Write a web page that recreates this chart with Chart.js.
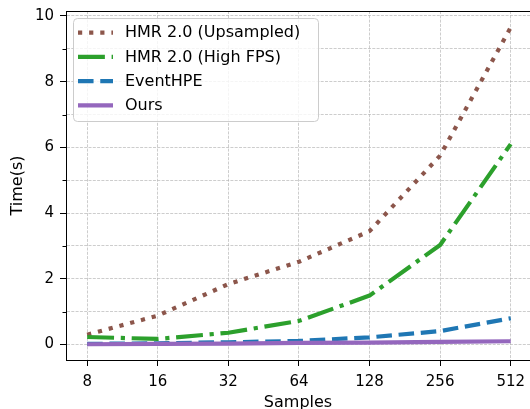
<!DOCTYPE html>
<html>
<head>
<meta charset="utf-8">
<script src="https://cdn.jsdelivr.net/npm/chart.js@4/dist/chart.umd.min.js"></script>
<style>
  html, body { margin: 0; padding: 0; background: #fff; }
  #wrap { width: 530px; height: 409px; position: relative; }
</style>
</head>
<body>
<div id="wrap"><canvas id="chartTempi"></canvas></div>
<script>
// dati
var samples = ['8', '16', '32', '64', '128', '256', '512'];
var hmrUpsampled = [0.30, 0.88, 1.84, 2.52, 3.45, 5.75, 9.65];
var hmrHighFps = [0.23, 0.17, 0.36, 0.72, 1.49, 3.03, 6.10];
var eventHpe = [0.02, 0.04, 0.07, 0.11, 0.22, 0.41, 0.80];
var ours = [0.01, 0.02, 0.03, 0.05, 0.06, 0.08, 0.10];
var yTicks = [0, 1, 2, 3, 4, 5, 6, 7, 8, 9, 10];

var FONT = 'DejaVu Sans';
var LW = 4.2;

function punti(valori) {
    return valori.map(function (v, i) { return { x: i, y: v }; });
}

// legenda dentro l'area del grafico, stile matplotlib
var legendaInterna = {
    id: 'legendaInterna',
    afterDatasetsDraw: function (chart) {
        var ctx = chart.ctx;
        var x0 = 73, y0 = 18, w = 245, h = 103;
        ctx.save();
        ctx.beginPath();
        ctx.roundRect(x0 + 0.5, y0 + 0.5, w, h, 4);
        ctx.fillStyle = 'rgba(255,255,255,0.8)';
        ctx.fill();
        ctx.strokeStyle = '#cccccc';
        ctx.lineWidth = 1;
        ctx.stroke();
        ctx.font = '16px "' + FONT + '"';
        ctx.textBaseline = 'middle';
        ctx.fillStyle = '#000';
        chart.data.datasets.forEach(function (ds, i) {
            var y = 32.7 + i * 24.2;
            ctx.beginPath();
            ctx.setLineDash(ds.borderDash || []);
            ctx.lineDashOffset = 0;
            ctx.lineCap = 'butt';
            ctx.strokeStyle = ds.borderColor;
            ctx.lineWidth = ds.borderWidth;
            ctx.moveTo(78, y);
            ctx.lineTo(113, y);
            ctx.stroke();
            ctx.setLineDash([]);
            ctx.fillText(ds.label, 125, y + 0.5);
        });
        ctx.restore();
    }
};

// bordo superiore e tacche minori sull'asse y
var cornice = {
    id: 'cornice',
    afterDraw: function (chart) {
        var ctx = chart.ctx;
        var a = chart.chartArea;
        var sy = chart.scales.y;
        ctx.save();
        ctx.strokeStyle = '#000';
        ctx.lineWidth = 1;
        ctx.beginPath();
        ctx.moveTo(a.left, Math.round(a.top) + 0.5);
        ctx.lineTo(a.right, Math.round(a.top) + 0.5);
        ctx.stroke();
        yTicks.forEach(function (v) {
            if (v % 2 === 0) return;
            var py = Math.round(sy.getPixelForValue(v)) + 0.5;
            ctx.beginPath();
            ctx.moveTo(a.left - 3.5, py);
            ctx.lineTo(a.left, py);
            ctx.stroke();
        });
        ctx.restore();
    }
};

var ctxTempi = document.getElementById('chartTempi').getContext('2d');
new Chart(ctxTempi, {
    type: 'line',
    data: {
        datasets: [
            {
                label: 'HMR 2.0 (Upsampled)',
                data: punti(hmrUpsampled),
                borderColor: '#8c564b',
                borderWidth: LW,
                borderDash: [LW, LW * 1.65],
                order: 4
            },
            {
                label: 'HMR 2.0 (High FPS)',
                data: punti(hmrHighFps),
                borderColor: '#2ca02c',
                borderWidth: LW,
                borderDash: [LW * 6.4, LW * 1.6, LW, LW * 1.6],
                order: 3
            },
            {
                label: 'EventHPE',
                data: punti(eventHpe),
                borderColor: '#1f77b4',
                borderWidth: LW,
                borderDash: [LW * 3.7, LW * 1.6],
                order: 2
            },
            {
                label: 'Ours',
                data: punti(ours),
                borderColor: '#9467bd',
                borderWidth: LW,
                borderDash: [],
                order: 1
            }
        ]
    },
    options: {
        responsive: true,
        maintainAspectRatio: false,
        animation: false,
        layout: { padding: { top: 11, right: 0, left: 0, bottom: 0 } },
        elements: {
            point: { radius: 0 },
            line: { tension: 0, borderCapStyle: 'butt', borderJoinStyle: 'round', fill: false }
        },
        plugins: {
            legend: { display: false },
            tooltip: { enabled: false }
        },
        scales: {
            x: {
                type: 'linear',
                min: -0.3,
                max: 6.273,
                afterBuildTicks: function (s) {
                    s.ticks = samples.map(function (_, i) { return { value: i }; });
                },
                afterFit: function (s) {
                    s.height = 49;
                    s.paddingLeft = 0;
                    s.paddingRight = 0;
                },
                ticks: {
                    autoSkip: false,
                    maxRotation: 0,
                    padding: 7,
                    color: '#000',
                    font: { family: FONT, size: 15 },
                    callback: function (v) { return samples[v]; }
                },
                grid: {
                    color: 'rgba(176,176,176,0.8)',
                    lineWidth: 0.8,
                    tickLength: 6,
                    tickColor: '#000',
                    tickWidth: 1,
                    tickBorderDash: []
                },
                border: { display: true, color: '#000', width: 1, dash: [3, 1.3] },
                title: {
                    display: true,
                    text: 'Samples',
                    color: '#000',
                    font: { family: FONT, size: 16, lineHeight: 1 },
                    padding: { top: 0, bottom: -2 }
                }
            },
            y: {
                type: 'linear',
                min: -0.47,
                max: 10.15,
                afterBuildTicks: function (s) {
                    s.ticks = yTicks.map(function (v) { return { value: v }; });
                },
                afterFit: function (s) {
                    s.width = 66;
                    s.paddingTop = 0;
                    s.paddingBottom = 0;
                },
                ticks: {
                    autoSkip: false,
                    padding: 6,
                    color: '#000',
                    font: { family: FONT, size: 15 },
                    callback: function (v) { return v % 2 === 0 ? String(v) : ''; }
                },
                grid: {
                    color: 'rgba(176,176,176,0.8)',
                    lineWidth: 0.8,
                    tickLength: 6,
                    tickWidth: 1,
                    tickBorderDash: [],
                    tickColor: function (c) {
                        return c.tick && c.tick.value % 2 === 0 ? '#000' : 'rgba(0,0,0,0)';
                    }
                },
                border: { display: true, color: '#000', width: 1, dash: [3, 1.3] },
                title: {
                    display: true,
                    text: 'Time(s)',
                    color: '#000',
                    font: { family: FONT, size: 16, lineHeight: 1 },
                    padding: { top: 10, bottom: 0 }
                }
            }
        }
    },
    plugins: [legendaInterna, cornice]
});
</script>
</body>
</html>
